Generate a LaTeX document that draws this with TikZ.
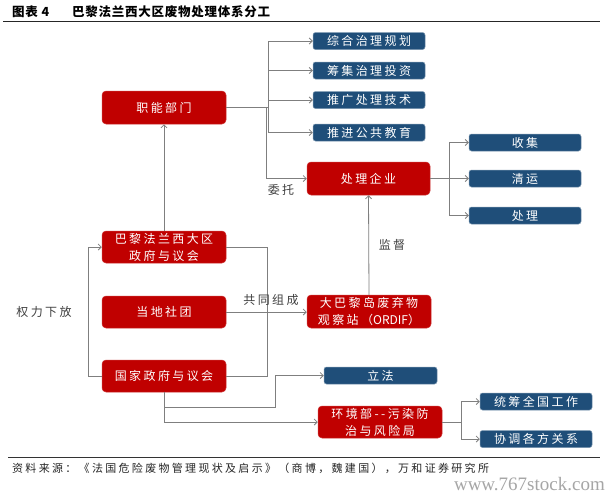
\documentclass[tikz,border=0pt]{standalone}
\usepackage{fontspec}
\setmainfont{Noto Sans CJK SC}
\newfontfamily\boxfont[LetterSpace=20]{Noto Sans CJK SC}
\newfontfamily\plainfont{Noto Sans CJK SC}
\newfontfamily\titlefont[LetterSpace=6]{Noto Sans CJK SC}
\newfontfamily\srcfont[LetterSpace=21]{Noto Sans CJK SC}
\newfontfamily\wmfont{Liberation Serif}
\usetikzlibrary{arrows.meta}
\definecolor{redbox}{HTML}{C00000}
\definecolor{bluebox}{HTML}{1F4E79}
\definecolor{linec}{HTML}{7F7F7F}
\definecolor{labc}{HTML}{404040}
\tikzset{
 redn/.style={fill=redbox, draw=redbox!80!white, line width=0.5pt, rounded corners=4pt, minimum width=124pt, minimum height=33pt, inner sep=0pt, text=white, font=\boxfont\fontsize{12}{17}\selectfont, align=center},
 bluen/.style={fill=bluebox, draw=bluebox!60!white, line width=0.5pt, rounded corners=2.5pt, minimum width=112pt, minimum height=17pt, inner sep=0pt, text=white, font=\boxfont\fontsize{12}{14}\selectfont},
 conn/.style={draw=linec, line width=0.8pt},
 arr/.style={conn, -{Straight Barb[length=3pt,width=6pt]}},
 lab/.style={text=labc, font=\boxfont\fontsize{12}{14}\selectfont, inner sep=0pt},
}
\begin{document}
\begin{tikzpicture}[x=1pt,y=-1pt]
\useasboundingbox (0,0) rectangle (607,496);
\fill[white] (0,0) rectangle (607,496);
% title
\node[anchor=west, inner sep=0pt, font=\titlefont\bfseries\fontsize{12.5}{14}\selectfont] (t1) at (12,12) {图表 4};
\node[anchor=west, inner sep=0pt, font=\titlefont\bfseries\fontsize{12.5}{14}\selectfont] (t2) at (72,12) {巴黎法兰西大区废物处理体系分工};
\draw[line width=1.2pt, black!85] (3,21.5) -- (600,21.5);
% red nodes
\node[redn] (zn) at (164,107.5) {职能部门};
\node[redn, minimum height=32pt] (bl) at (164,247) {巴黎法兰西大区\\政府与议会};
\node[redn, minimum height=32pt] (dd) at (164,312) {当地社团};
\node[redn, minimum height=32pt] (gj) at (164,376) {国家政府与议会};
\node[redn, minimum width=123pt] (cl) at (368.5,178.5) {处理企业};
\node[redn] (ord) at (369,311.5) {大巴黎岛废弃物\\观察站（{\plainfont\fontsize{12}{17}\selectfont ORDIF}）};
\node[redn, minimum height=32pt] (hj) at (380,422) {环境部--污染防\\治与风险局};
% blue nodes
\node[bluen] (b1) at (369,41) {综合治理规划};
\node[bluen] (b2) at (369,70.5) {筹集治理投资};
\node[bluen] (b3) at (369,100) {推广处理技术};
\node[bluen] (b4) at (369,132.5) {推进公共教育};
\node[bluen] (sj) at (525,142.5) {收集};
\node[bluen] (qy) at (525,178.5) {清运};
\node[bluen] (clb) at (525,215.5) {处理};
\node[bluen, minimum width=113pt] (lf) at (380.5,375.5) {立法};
\node[bluen] (tc) at (536,401.5) {统筹全国工作};
\node[bluen] (xt) at (536,439) {协调各方关系};
% junctions
\coordinate (j1) at (268,107.5);
\coordinate (j2) at (266,107.5);
\coordinate (j3) at (449,178.5);
\coordinate (j4) at (267,247);
\coordinate (j5) at (267,376);
\coordinate (j6) at (88,376);
\coordinate (j7) at (164,407);
\coordinate (j8) at (275,407);
\coordinate (j9) at (461,422);
% connectors
\draw[conn] (zn.east) -- (j1);
\draw[arr] (j1) |- (b1.west);
\draw[arr] (j1) |- (b2.west);
\draw[arr] (j1) |- (b3.west);
\draw[arr] (j1) |- (b4.west);
\draw[arr] (j2) |- (cl.west);
\draw[conn] (cl.east) -- (j3);
\draw[arr] (j3) |- (sj.west);
\draw[arr] (j3) |- (qy.west);
\draw[arr] (j3) |- (clb.west);
\draw[arr] (ord.north) -- (cl.south);
\draw[arr] (bl.north) -- (zn.south);
\draw[conn] (bl.east) -- (j4) -- (j5) -- (gj.east);
\draw[arr] (dd.east) -- (ord.west |- dd.east);
\draw[arr] (gj.west) -- (j6) |- (bl.west);
\draw[arr] (gj.south) -- (j7) -- (j8) |- (lf.west);
\draw[arr] (gj.south) |- (hj.west);
\draw[conn] (hj.east) -- (j9);
\draw[arr] (j9) |- (tc.west);
\draw[arr] (j9) |- (xt.west);
% labels
\node[lab] (l1) at (281,190) {委托};
\node[lab] (l2) at (392,245) {监督};
\node[lab] (l3) at (271,300) {共同组成};
\node[lab] (l4) at (44,312) {权力下放};
% footer
\draw[line width=1pt, black!80] (8,457.5) -- (600,457.5);
\node[anchor=west, inner sep=0pt, text=black!85, font=\srcfont\fontsize{11}{13}\selectfont] (src) at (12,468) {资料来源：《法国危险废物管理现状及启示》（商博，魏建国），万和证券研究所};
\node[anchor=east, inner sep=0pt, text=black!35, font=\wmfont\fontsize{19}{20}\selectfont] (wm) at (605,484) {www.767stock.com};
\end{tikzpicture}
\end{document}
